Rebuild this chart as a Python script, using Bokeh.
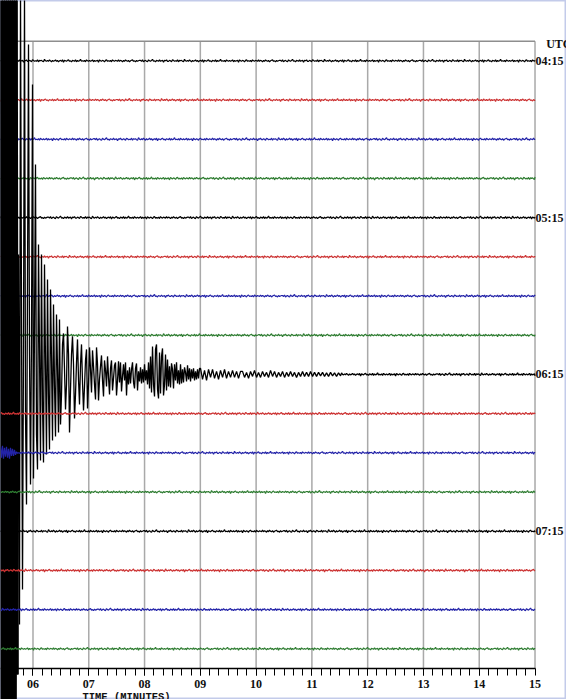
import numpy as np
from bokeh.plotting import figure
from bokeh.models import Range1d, LinearAxis, FixedTicker
from bokeh.core.properties import value
from bokeh.embed import file_html
from bokeh.resources import INLINE

# ---------------- data ----------------
N_ROWS = 16
ROW_COLORS = ["#000000", "#cc3333", "#2323a8", "#2f7d32"]
HOUR_LABELS = ["04:15", "05:15", "06:15", "07:15"]      # one every 4 rows
HOUR_ROWS = [0, 4, 8, 12]
TICK_MINUTES = [6, 7, 8, 9, 10, 11, 12, 13, 14, 15]
TICK_LABELS = ["06", "07", "08", "09", "10", "11", "12", "13", "14", "15"]
MINOR_PER_MINUTE = 6          # a minor tick every 10 s

X_START = 5.4174              # minute shown at the left edge (trace cut off)
X_END = 15.0
FRAME_TOP = 0.5
FRAME_BOTTOM = -15.5

PX_PER_ROW = 39.2             # trace amplitudes below are given in pixels
EVENT_ROW = 8                 # the 06:15 line carries the large event
N_SATURATED = 18              # first samples of the onset drawn heavier
# event onset and early coda, one sample every 0.01793 min
FINE_DT = 0.01793
FINE_PX = [400, -380, 410, -360, 390, -350, 400, -340, 420, -345, 400, -330,
           410, -340, 395, -335, 380, -300, 120, -250, 385, 60, -215, 30, 380,
           -40, -130, 90, 330, 20, -110, 40, 290, -104, 50, 210, -60, -95, 130,
           20, -86, 120, -30, -88, 110, 10, -80, 95, -20, -75, 85, 15, -66, 70,
           -10, -62, 60, 5, -58, 55,
           -50, -20, 30, 41, 5, -35, -10, 48, 20, -58,
           -15, 20, 38, 10, -44, -20, 12, 35, -5, -30,
           10, 30, -8, -36, -12, 14, 25, -34, -10, 27,
           5, -18, 24, 8, -10, -25, 27, 10, -26, -5,
           8, 19, -6, -22, 14, 4, -12, 18, -3, -20,
           6, 14, -16, -4, 9, 12, -21, -6, 13, -8,
           12, -17, -2, 10, -6, 12, -21, 4, -10, 7,
           -9, 5, 12, -8, -14, 6, 11, -16, 3, -7,
           7, -9, 5, -8, 10, -6, 4, -10, 12, -14,
           18, -18, 28, -10, -22, 25, 30, -15, -24, 22,
           -19, 18, 26, -21, -10, 20, -16, 15, -12, 8,
           -13, 11, 5, -14, 10, -6, 12, -9, 4, -10,
           10, -9, 5, -8, 7, 2, -7, 9, -5, 6,
           -7, 5, -4, 6, -6, 3, -5, 5, -4, 6]
# late coda, one sample every 0.03586 min
CODA_DT = 0.03586
CODA_PX = [6, -5, 4, -6, 5, -3, 5, -4, 3, -5, 4, -3, 5, -4, 3, -3, 4, -3, 3, -4, 3,
           3, -3, 2, -4, 3, -2, 4, -3, 2, -3, 3, -2, 2, -3, 4, -2, 3, -3, 2, -2,
           3, -3, 2, -2, 3, -2, 2, -3, 2, -2, 3, -2, 2, -2, 3, -2, 2, -2, 2, -1.5,
           2, -2, 1.5, -2, 2, -1.5, 1.5, -2, 1.5, -1.5]
# background noise (half-pixel units), one sample every 0.01793 min
NOISE_DT = 0.01793
NOISE_HALFPX = [1, -1, 2, -2, 0, 1, -1, -2, 2, 0, -1, 1, 3, -1, 0, -2, 1, 0, -1, 2,
                -1, 0, 1, -3, 1, 0, 2, -1, -1, 1, 0, -2, 2, 1, -1, 0, -1, 2, -2, 1,
                0, 1, -1, -2, 3, 0, -1, 1, -1, 2, 0, -2, 1, -1, 0, 2, -1, 1, -2, 0,
                1, -1, 2, -3, 1, 0, -1, 1, 2, -1, 0, -2, 1, 0, -1, 2, -2, 1, -1, 0,
                3, -1, 0, -1, 1, -2, 2, 0, -1, 1, -1, 0, 2, -2, 1, -1, 0, 1, -3, 2,
                0, -1, 1, 0, -2, 1, 2, -1, 0, -1, 1, -2, 2, 0, -1, 1, 0, -1, 2, -1,
                1, 0, -2, 1, -1, 2, 0, -1, 1, -2, 0, 1, 2, -1, 0, -2, 1, -1, 0, 1]
BLUE_ROW = 10
BLUE_BURST_PX = [6, -5, 7, -6, 5, -4, 6, -5, 4, -6, 5, -3, 4, -3, 3, -2]

# ---------------- figure ----------------
p = figure(width=566, height=699, output_backend="svg", toolbar_location=None,
           x_range=Range1d(X_START, 15.5645), y_range=Range1d(-16.2933, 1.5383),
           x_axis_type=None, y_axis_type=None, min_border=0,
           outline_line_color="#c3cbea", outline_line_width=2,
           background_fill_color="white", border_fill_color="white")

# vertical minute grid + right frame
p.segment(x0=TICK_MINUTES, x1=TICK_MINUTES,
          y0=[FRAME_BOTTOM] * len(TICK_MINUTES), y1=[FRAME_TOP] * len(TICK_MINUTES),
          line_color="#a9a9a9", line_width=1.5)
# top frame line
p.segment(x0=[X_START], x1=[X_END], y0=[FRAME_TOP], y1=[FRAME_TOP],
          line_color="#8e8e8e", line_width=1.5)

noise = np.array(NOISE_HALFPX, dtype=float) * 0.5
n_noise = int(np.floor((X_END - X_START) / NOISE_DT)) + 1
t_noise = np.append(X_START + NOISE_DT * np.arange(n_noise), X_END)


def noise_for(row, count):
    idx = (np.arange(count) + row * 23) % len(noise)
    return noise[idx]


for r in range(N_ROWS):
    color = ROW_COLORS[r % 4]
    if r == EVENT_ROW:
        t_fine = X_START + FINE_DT * np.arange(len(FINE_PX))
        t_coda = t_fine[-1] + FINE_DT + CODA_DT * np.arange(len(CODA_PX))
        mask = t_noise > t_coda[-1]
        t = np.concatenate([t_fine, t_coda, t_noise[mask]])
        amp = np.concatenate([np.array(FINE_PX, float), np.array(CODA_PX, float),
                              noise_for(r, mask.sum())])
        y = -r + amp / PX_PER_ROW
        p.line(t, y, line_color=color, line_width=1.3)
        p.line(t[:N_SATURATED], y[:N_SATURATED], line_color=color, line_width=2.6)
    else:
        amp = noise_for(r, len(t_noise)).copy()
        if r == BLUE_ROW:
            amp[:len(BLUE_BURST_PX)] = BLUE_BURST_PX
        p.line(t_noise, -r + amp / PX_PER_ROW, line_color=color, line_width=1.2)

# bottom time axis drawn inside the frame
minor = [m + k / MINOR_PER_MINUTE for m in range(5, 15) for k in range(MINOR_PER_MINUTE)]
minor = [v for v in minor if X_START <= v <= X_END]
xaxis = LinearAxis(ticker=FixedTicker(ticks=TICK_MINUTES, minor_ticks=minor),
                   fixed_location=FRAME_BOTTOM, bounds=(X_START, X_END),
                   major_label_overrides={m: l for m, l in zip(TICK_MINUTES, TICK_LABELS)},
                   major_tick_in=0, major_tick_out=7, minor_tick_in=0, minor_tick_out=7,
                   axis_line_color="black", axis_line_width=1.5,
                   major_tick_line_color="black", minor_tick_line_color="black",
                   major_label_text_font="Liberation Serif",
                   major_label_text_font_style="bold",
                   major_label_text_font_size="12px",
                   major_label_text_color="#111111",
                   major_label_standoff=5)
p.add_layout(xaxis, "below")

# axis title
p.text(x=[7.676], y=[-16.242], text=["TIME (MINUTES)"], text_align="center",
       text_baseline="alphabetic", text_font=value("Liberation Mono"),
       text_font_style="bold", text_font_size="10.5px", text_color="#111111")

# right side labels
p.text(x=[15.2], y=[0.42], text=["UTC"], text_align="left",
       text_baseline="middle", text_font=value("Liberation Serif"),
       text_font_style="bold", text_font_size="12px", text_color="#111111")
p.text(x=[15.01] * len(HOUR_ROWS), y=[-r for r in HOUR_ROWS], text=HOUR_LABELS,
       text_align="left", text_baseline="middle", text_font=value("Liberation Serif"),
       text_font_style="bold", text_font_size="12px", text_color="#111111")

open("out.html", "w").write(file_html(p, INLINE))
